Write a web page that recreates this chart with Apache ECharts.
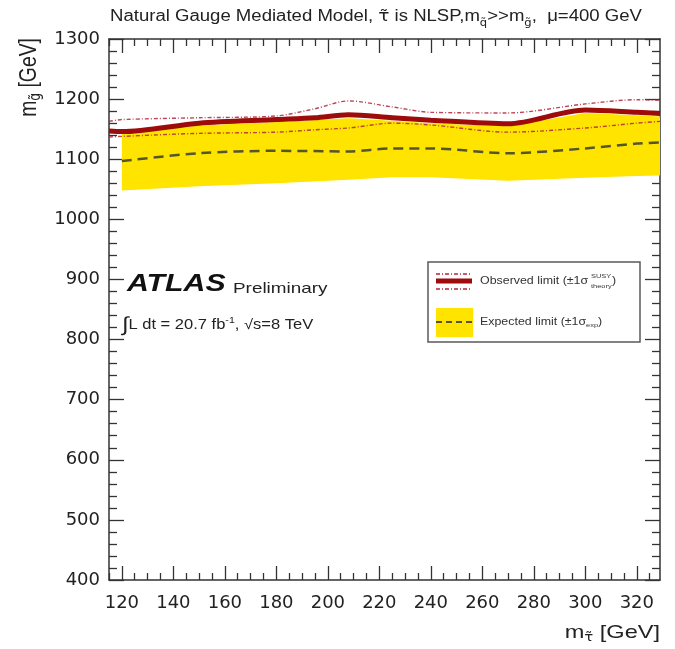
<!DOCTYPE html>
<html>
<head>
<meta charset="utf-8">
<script src="https://cdn.jsdelivr.net/npm/echarts@6/dist/echarts.min.js"></script>
<style>
  html, body { margin: 0; padding: 0; background: #ffffff; }
  #chart { width: 675px; height: 649px; }
</style>
</head>
<body>
<div id="chart"></div>
<script>
// stau mass grid (GeV) for the observed limit and its theory variations
const obsX   = [115, 120, 150, 180, 195, 208, 225, 240, 270, 300, 320, 329];
const obsY   = [1147, 1146, 1160, 1166, 1169, 1174, 1169, 1165, 1159, 1182, 1178, 1176];
const obsUpY = [1163, 1166, 1169, 1172, 1184, 1197, 1187, 1178, 1177, 1192, 1199, 1198];
const obsDnY = [1137, 1138, 1143, 1145, 1149, 1152, 1160, 1157, 1145, 1152, 1160, 1163];

// expected limit and its +-1 sigma experimental band
const expX    = [120, 150, 180, 208, 225, 240, 270, 300, 320, 329];
const expY    = [1097, 1110, 1114, 1113, 1118, 1118, 1110, 1118, 1126, 1128];
const expHiY  = [1144, 1156, 1162, 1168, 1164, 1160, 1155, 1177, 1173, 1171];
const expLoY  = [1048, 1055, 1060, 1066, 1070, 1070, 1064, 1069, 1072, 1073];

// axis tick labels
const xTickLabels = [120, 140, 160, 180, 200, 220, 240, 260, 280, 300, 320];
const xRange = [115, 329];
const yRange = [400, 1300];

const xMinorTicks = [];
for (let v = 115; v <= 329; v += 5) {
  if (xTickLabels.indexOf(v) < 0) xMinorTicks.push(v);
}

const pairs = (xs, ys) => xs.map((x, i) => [x, ys[i]]);

const AXIS_COLOR = '#333333';
const TEXT_COLOR = '#222222';
const YELLOW = '#ffe400';
const OBS_RED = '#9e0b0b';
const THEORY_RED = '#b3243a';
const EXP_DASH = '#55552e';
const SANS = 'Liberation Sans, Arial, Helvetica, sans-serif';
const DEJAVU = 'DejaVu Sans, sans-serif';
const STRETCH = 1.24;

function xAxisDef(position, values, len, withLabels, withLine) {
  return {
    type: 'value', min: xRange[0], max: xRange[1], position: position,
    axisLine: { show: withLine, onZero: false, lineStyle: { color: AXIS_COLOR, width: 1.5 } },
    axisTick: { show: true, inside: true, length: len, customValues: values,
                lineStyle: { color: AXIS_COLOR, width: 1.3 } },
    axisLabel: withLabels
      ? { show: true, customValues: values, fontFamily: 'DejaVu Sans', fontSize: 18,
          color: TEXT_COLOR, margin: 14, formatter: v => String(v) }
      : { show: false },
    splitLine: { show: false }
  };
}

function yAxisDef(position, withLabels) {
  return {
    type: 'value', min: yRange[0], max: yRange[1], interval: 100, position: position,
    axisLine: { show: true, onZero: false, lineStyle: { color: AXIS_COLOR, width: 1.5 } },
    axisTick: { show: true, inside: true, length: 15, lineStyle: { color: AXIS_COLOR, width: 1.3 } },
    minorTick: { show: true, splitNumber: 5, length: 8, lineStyle: { color: AXIS_COLOR, width: 1.3 } },
    axisLabel: withLabels
      ? { show: true, fontFamily: 'DejaVu Sans', fontSize: 18, color: TEXT_COLOR, margin: 9,
          formatter: v => String(v) }
      : { show: false },
    splitLine: { show: false },
    minorSplitLine: { show: false }
  };
}

function label(x, y, text, font, opts) {
  opts = opts || {};
  return {
    type: 'text', x: x, y: y, z: 100,
    rotation: opts.rotation || 0,
    scaleX: opts.scaleX !== undefined ? opts.scaleX : STRETCH,
    scaleY: opts.scaleY !== undefined ? opts.scaleY : 1,
    style: {
      text: text, font: font, fill: opts.fill || TEXT_COLOR,
      align: opts.align || 'left', textAlign: opts.align || 'left',
      verticalAlign: opts.valign || 'middle', textVerticalAlign: opts.valign || 'middle',
      rich: opts.rich
    }
  };
}

// polygon for the expected +-1 sigma band, built from the axis scales
function renderBand(params, api) {
  if (params.dataIndex !== 0) return null;
  const pts = [];
  for (let i = 0; i < expX.length; i++) pts.push(api.coord([expX[i], expHiY[i]]));
  for (let i = expX.length - 1; i >= 0; i--) pts.push(api.coord([expX[i], expLoY[i]]));
  return { type: 'polygon', shape: { points: pts, smooth: 0 }, style: { fill: YELLOW } };
}

const chart = echarts.init(document.getElementById('chart'), null, { renderer: 'canvas' });

const tildeRich = (size, pad) => ({
  s: { font: size + 'px ' + SANS, fill: TEXT_COLOR, padding: [pad, 0, 0, 0] },
  d: { font: size + 'px ' + DEJAVU, fill: TEXT_COLOR, padding: [pad, 0, 0, 0] }
});

const option = {
  animation: false,
  backgroundColor: '#ffffff',
  grid: { left: 109, right: 15, top: 39, bottom: 69, containLabel: false },
  xAxis: [
    xAxisDef('bottom', xTickLabels, 14, true, true),
    xAxisDef('bottom', xMinorTicks, 7, false, false),
    xAxisDef('top', xTickLabels, 14, false, true),
    xAxisDef('top', xMinorTicks, 7, false, false)
  ],
  yAxis: [
    yAxisDef('left', true),
    yAxisDef('right', false)
  ],
  series: [
    {
      name: 'Expected band', type: 'custom', renderItem: renderBand,
      data: pairs(expX, expLoY), silent: true, clip: true, z: 1
    },
    {
      name: 'Expected limit', type: 'line', smooth: 0.3, data: pairs(expX, expY),
      symbol: 'none', silent: true,
      lineStyle: { color: EXP_DASH, width: 2.5, type: [10, 6] }
    },
    {
      name: 'theory down', type: 'line', smooth: 0.3, data: pairs(obsX, obsDnY),
      symbol: 'none', silent: true,
      lineStyle: { color: THEORY_RED, width: 1.4, type: [4, 2, 1, 2], opacity: 0.85 }
    },
    {
      name: 'theory up', type: 'line', smooth: 0.3, data: pairs(obsX, obsUpY),
      symbol: 'none', silent: true,
      lineStyle: { color: THEORY_RED, width: 1.4, type: [4, 2, 1, 2], opacity: 0.85 }
    },
    {
      name: 'Observed limit', type: 'line', smooth: 0.3, data: pairs(obsX, obsY),
      symbol: 'none', silent: true,
      lineStyle: { color: OBS_RED, width: 5 }
    }
  ],
  graphic: [
    // title
    label(110, 17,
      'Natural Gauge Mediated Model, {t|τ̃} is NLSP,m{d|q̃}>>m{d|g̃},  μ=400 GeV',
      '16px ' + SANS,
      { scaleX: 1.16, rich: Object.assign(tildeRich(10, 12),
          { t: { font: '16px ' + DEJAVU, fill: TEXT_COLOR } }) }),
    // axis titles
    label(660, 633, 'm{d|τ̃} [GeV]', '19px ' + SANS,
      { align: 'right', rich: tildeRich(12, 10) }),
    label(29, 38, 'm{d|g̃} [GeV]', '19px ' + SANS,
      { align: 'right', rotation: Math.PI / 2, scaleX: 1.02, scaleY: 1.3,
        rich: tildeRich(12, 10) }),
    // experiment label
    label(127, 284, 'ATLAS', 'italic bold 24px ' + SANS, { fill: '#111', scaleX: 1.26 }),
    label(233, 289, 'Preliminary', '15px ' + SANS, { scaleX: 1.26 }),
    label(122, 325, '{i|∫}L dt = 20.7 fb{u|-1}, √s=8 TeV', '14px ' + SANS,
      { scaleX: 1.18, rich: {
          i: { font: '20px ' + SANS, fill: TEXT_COLOR },
          u: { font: '9px ' + SANS, fill: TEXT_COLOR, padding: [0, 0, 8, 0] } } }),
    // legend box
    { type: 'rect', z: 90, shape: { x: 428, y: 262, width: 212, height: 80 },
      style: { fill: '#ffffff', stroke: '#5a5a5a', lineWidth: 1.5 } },
    { type: 'line', z: 100, shape: { x1: 436, y1: 274, x2: 472, y2: 274 },
      style: { stroke: THEORY_RED, lineWidth: 1.4, lineDash: [4, 2, 1, 2] } },
    { type: 'line', z: 100, shape: { x1: 436, y1: 281, x2: 472, y2: 281 },
      style: { stroke: OBS_RED, lineWidth: 5 } },
    { type: 'line', z: 100, shape: { x1: 436, y1: 289, x2: 472, y2: 289 },
      style: { stroke: THEORY_RED, lineWidth: 1.4, lineDash: [4, 2, 1, 2] } },
    { type: 'rect', z: 95, shape: { x: 436, y: 308, width: 37, height: 29 },
      style: { fill: YELLOW } },
    { type: 'line', z: 100, shape: { x1: 436, y1: 322, x2: 473, y2: 322 },
      style: { stroke: EXP_DASH, lineWidth: 2, lineDash: [6, 4] } },
    label(480, 281, 'Observed limit (±1σ', '10px ' + SANS, { fill: '#333' }),
    label(591, 276, 'SUSY', '6px ' + SANS, { fill: '#333' }),
    label(591, 286, 'theory', '6px ' + SANS, { fill: '#333' }),
    label(612, 281, ')', '10px ' + SANS, { fill: '#333' }),
    label(480, 322, 'Expected limit (±1σ{s|exp})', '10px ' + SANS,
      { fill: '#333', rich: { s: { font: '6px ' + SANS, fill: '#333', padding: [6, 0, 0, 0] } } })
  ]
};

chart.setOption(option);
</script>
</body>
</html>
